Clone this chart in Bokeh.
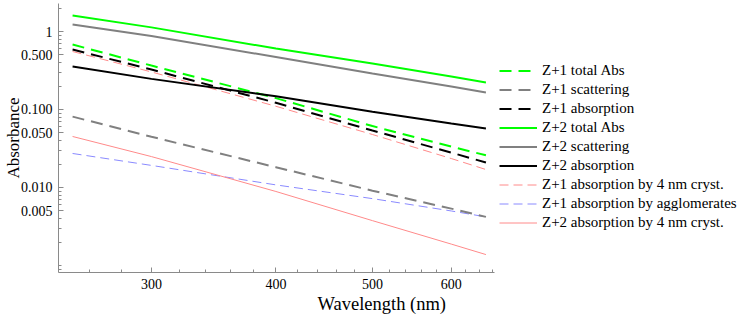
import math
from bokeh.plotting import figure
from bokeh.models import (Range1d, FixedTicker, Legend, LegendItem, Title,
                          BasicTickFormatter)
from bokeh.embed import file_html
from bokeh.resources import INLINE

# ---------------- data ----------------
wavelength = [250, 300, 400, 500, 600, 650]

z1_total_abs = [0.68, 0.366, 0.140, 0.0613, 0.0334, 0.0259]
z1_scattering = [0.081, 0.0447, 0.0182, 0.0091, 0.00536, 0.0042]
z1_absorption = [0.588, 0.325, 0.122, 0.0538, 0.0280, 0.0209]
z2_total_abs = [1.60, 1.13, 0.605, 0.389, 0.265, 0.222]
z2_scattering = [1.23, 0.878, 0.470, 0.289, 0.197, 0.165]
z2_absorption = [0.356, 0.247, 0.148, 0.0936, 0.0661, 0.0572]
z1_abs_4nm = [0.554, 0.303, 0.110, 0.0478, 0.0235, 0.0170]
z1_abs_agglom = [0.0273, 0.0192, 0.0108, 0.0072, 0.0050, 0.0042]
z2_abs_4nm = [0.0451, 0.0249, 0.00889, 0.00376, 0.00188, 0.00138]

series_labels = ["Z+1 total Abs", "Z+1 scattering", "Z+1 absorption",
                 "Z+2 total Abs", "Z+2 scattering", "Z+2 absorption",
                 "Z+1 absorption by 4 nm cryst.",
                 "Z+1 absorption by agglomerates",
                 "Z+2 absorption by 4 nm cryst."]

x_ticks = [300, 400, 500, 600]
x_tick_labels = ["300", "400", "500", "600"]
x_minor_ticks = [260, 280, 320, 340, 360, 380, 420, 440, 460, 480,
                 520, 540, 560, 580, 620, 640, 660]
y_ticks = [0.005, 0.01, 0.05, 0.1, 0.5, 1]
y_tick_labels = ["0.005", "0.010", "0.050", "0.100", "0.500", "1"]
y_minor_ticks = [m * 10.0 ** e for e in range(-4, 1) for m in range(1, 10)]

x_title = "Wavelength (nm)"
y_title = "Absorbance"

# ---------------- figure ----------------
FONT = "Liberation Serif"
p = figure(frame_width=436, frame_height=269,
           x_axis_type="log", y_axis_type="log",
           x_range=Range1d(242.0, 663.0),
           y_range=Range1d(0.000813, 2.286),
           output_backend="svg", toolbar_location=None,
           min_border_left=51, min_border_right=250,
           min_border_top=3, min_border_bottom=45)
p.outline_line_color = None
p.grid.visible = False
p.background_fill_color = "white"
p.border_fill_color = "white"

for ax in (p.xaxis[0], p.yaxis[0]):
    ax.axis_line_color = "#8a8a8a"
    ax.major_tick_line_color = "#8a8a8a"
    ax.minor_tick_line_color = "#8a8a8a"
    ax.major_tick_in = 5
    ax.major_tick_out = 0
    ax.minor_tick_in = 3
    ax.minor_tick_out = 0
    ax.major_label_text_font = FONT
    ax.major_label_text_font_size = "14px"
    ax.major_label_text_color = "black"
    ax.formatter = BasicTickFormatter()

xa = p.xaxis[0]
xa.ticker = FixedTicker(ticks=x_ticks, minor_ticks=x_minor_ticks)
xa.major_label_overrides = dict(zip(x_ticks, x_tick_labels))
xa.major_label_standoff = 6

ya = p.yaxis[0]
ya.ticker = FixedTicker(ticks=y_ticks, minor_ticks=y_minor_ticks)
ya.major_label_overrides = dict(zip(y_ticks, y_tick_labels))
ya.major_label_standoff = 6
ya.axis_label = y_title
ya.axis_label_text_font = FONT
ya.axis_label_text_font_size = "17px"
ya.axis_label_text_font_style = "normal"
ya.axis_label_text_color = "black"
ya.axis_label_standoff = -5

GREEN = "#00ff00"
GRAY = "#808080"
PINK = "#ff8a8a"
BLUE = "#8a8aff"

styles = [
    (z1_total_abs, GREEN, 2, "12 7"),
    (z1_scattering, GRAY, 2, "12 7"),
    (z1_absorption, "black", 2, "12 7"),
    (z2_total_abs, GREEN, 2, "solid"),
    (z2_scattering, GRAY, 2, "solid"),
    (z2_absorption, "black", 2, "solid"),
    (z1_abs_4nm, PINK, 1, "9 5"),
    (z1_abs_agglom, BLUE, 1, "9 5"),
    (z2_abs_4nm, PINK, 1, "solid"),
]

renderers = []
for ys, col, lw, dash in styles:
    r = p.line(wavelength, ys, line_color=col, line_width=lw, line_dash=dash)
    renderers.append(r)

# draw thin lines beneath thick ones
p.renderers = renderers[6:] + renderers[:6]

items = [LegendItem(label=lab, renderers=[r]) for lab, r in zip(series_labels, renderers)]
legend = Legend(items=items, location=(5, 40),
                glyph_width=38, glyph_height=19, label_height=19,
                spacing=0, padding=0, margin=0, label_standoff=5,
                label_text_font=FONT, label_text_font_size="15px",
                label_text_color="black",
                border_line_alpha=0, background_fill_alpha=0)
p.add_layout(legend, "right")

xt = Title(text=x_title, align="left", offset=259, standoff=0,
           vertical_align="bottom",
           text_font=FONT, text_font_size="18.5px", text_font_style="normal",
           text_color="black")
p.add_layout(xt, "below")

open("out.html", "w").write(file_html(p, INLINE))
